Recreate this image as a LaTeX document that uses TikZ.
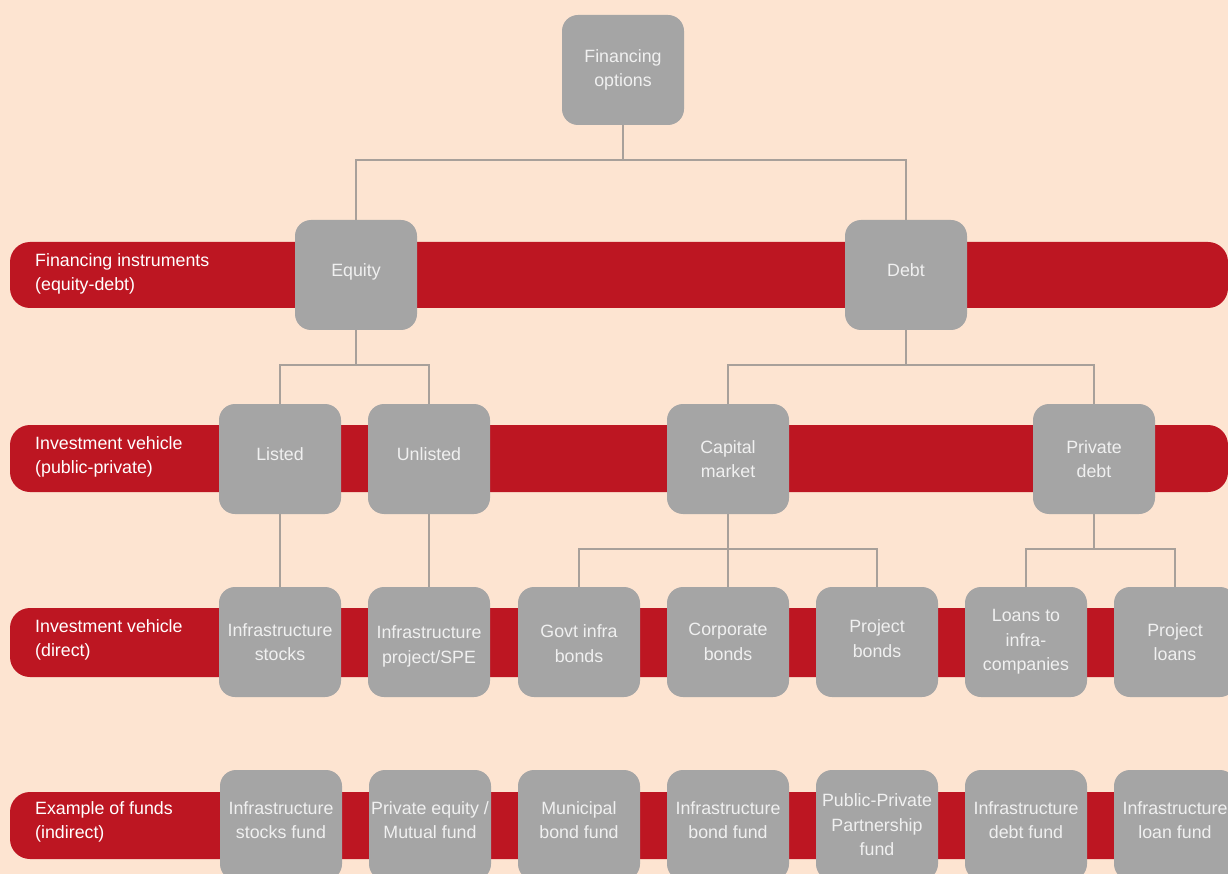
\documentclass[tikz,border=0pt]{standalone}
\usepackage{fontspec}
\setmainfont{Liberation Sans}
\definecolor{bgpeach}{HTML}{FDE4D1}
\definecolor{bandred}{HTML}{BD1622}
\definecolor{boxgray}{HTML}{A5A5A5}
\definecolor{boxtext}{HTML}{F0F0F0}
\definecolor{linkgray}{HTML}{A8A09A}
\newcommand\chartfont{\fontsize{17.8}{24.5}\selectfont}
\tikzset{
  optbox/.style={rectangle, rounded corners=16pt, fill=boxgray,
    minimum width=122pt, minimum height=110pt, inner sep=0pt,
    text=boxtext, align=center, font=\chartfont},
  oneline/.style={text height=13pt, text depth=10.5pt},
  fundbox/.style={optbox, text depth=10pt},
  bandlabel/.style={anchor=west, inner sep=0pt, text=white,
    align=left, font=\chartfont},
  band/.style={fill=bandred, rounded corners=20pt},
  link/.style={draw=linkgray, line width=2pt}
}
\begin{document}
\begin{tikzpicture}[x=1pt,y=-1pt]
  \clip (0,0) rectangle (1228,874);
  \fill[bgpeach] (0,0) rectangle (1228,874);

  % horizontal level bands
  \fill[band] (10,242) rectangle (1228,308);
  \fill[band] (10,425) rectangle (1228,492);
  \fill[band] (10,608) rectangle (1228,677);
  \fill[band] (10,792) rectangle (1228,859);

  % band captions
  \node[bandlabel] (lab1) at (35,274) {Financing instruments\\(equity-debt)};
  \node[bandlabel] (lab2) at (35,457) {Investment vehicle\\(public-private)};
  \node[bandlabel] (lab3) at (35,640) {Investment vehicle\\(direct)};
  \node[bandlabel] (lab4) at (35,822) {Example of funds\\(indirect)};

  % tree nodes
  \node[optbox] (top) at (623,70) {Financing\\options};
  \node[optbox, oneline] (equity) at (356,275) {Equity};
  \node[optbox, oneline] (debt) at (906,275) {Debt};

  \node[optbox, oneline] (listed) at (280,459) {Listed};
  \node[optbox, oneline] (unlisted) at (429,459) {Unlisted};
  \node[optbox] (capmkt) at (728,459) {Capital\\market};
  \node[optbox] (privdebt) at (1094,459) {Private\\debt};

  \node[optbox] (infstocks) at (280,642) {Infrastructure\\stocks};
  \node[optbox, text height=46pt] (infproj) at (429,642) {Infrastructure\\project/SPE};
  \node[optbox, text height=41pt] (govt) at (579,642) {Govt infra\\bonds};
  \node[optbox] (corp) at (728,642) {Corporate\\bonds};
  \node[optbox, text depth=7pt] (projbonds) at (877,642) {Project\\bonds};
  \node[optbox] (loans) at (1026,642) {Loans to\\infra-\\companies};
  \node[optbox] (projloans) at (1175,642) {Project\\loans};

  \node[fundbox] (f1) at (281,825) {Infrastructure\\stocks fund};
  \node[fundbox] (f2) at (430,825) {Private equity /\\Mutual fund};
  \node[fundbox] (f3) at (579,825) {Municipal\\bond fund};
  \node[fundbox] (f4) at (728,825) {Infrastructure\\bond fund};
  \node[optbox] (f5) at (877,825) {Public-Private\\Partnership\\fund};
  \node[fundbox] (f6) at (1026,825) {Infrastructure\\debt fund};
  \node[fundbox] (f7) at (1175,825) {Infrastructure\\loan fund};

  % connectors
  \draw[link] (top.south) -- ++(0,35) coordinate (j0);
  \draw[link] (equity.north) |- (j0) -| (debt.north);

  \draw[link] (equity.south) -- ++(0,35) coordinate (j1);
  \draw[link] (listed.north) |- (j1) -| (unlisted.north);

  \draw[link] (debt.south) -- ++(0,35) coordinate (j2);
  \draw[link] (capmkt.north) |- (j2) -| (privdebt.north);

  \draw[link] (listed.south) -- (infstocks.north);
  \draw[link] (unlisted.south) -- (infproj.north);

  \draw[link] (capmkt.south) -- (corp.north);
  \draw[link] (capmkt.south) ++(0,35) coordinate (j3);
  \draw[link] (govt.north) |- (j3) -| (projbonds.north);

  \draw[link] (privdebt.south) -- ++(0,35) coordinate (j4);
  \draw[link] (loans.north) |- (j4) -| (projloans.north);
\end{tikzpicture}
\end{document}
